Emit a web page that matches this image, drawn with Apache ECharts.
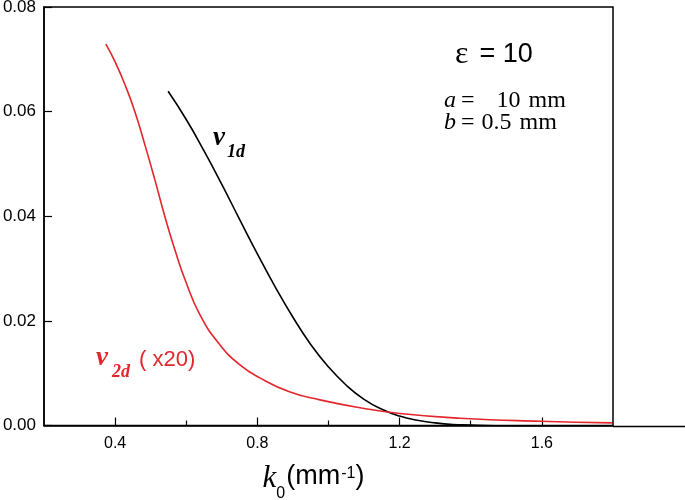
<!DOCTYPE html>
<html><head><meta charset="utf-8">
<script src="https://cdn.jsdelivr.net/npm/echarts@6/dist/echarts.min.js"></script>
<style>html,body{margin:0;padding:0;background:#fff}#c{width:685px;height:500px}</style>
</head><body><div id="c"></div>
<script>
// k0 (mm^-1) values and curve values
const v1dK   = [0.549, 0.60, 0.65, 0.70, 0.75, 0.80, 0.85, 0.90, 0.95, 1.00, 1.05, 1.10, 1.15, 1.20, 1.25, 1.30, 1.35, 1.40, 1.50, 1.60, 1.80];
const v1dVal = [0.0639, 0.0585, 0.0525, 0.0461, 0.0394, 0.0328, 0.0265, 0.0207, 0.0155, 0.0112, 0.0077, 0.0050, 0.0031, 0.0018, 0.0010, 0.0005, 0.0002, 0.0001, -0.0001, -0.0002, -0.0002];
// black curve runs on past the frame to this point
const v1dTailK = 2.003, v1dTailVal = -0.0002;
const v2dK   = [0.374, 0.400, 0.428, 0.456, 0.484, 0.512, 0.540, 0.568, 0.597, 0.639, 0.695, 0.751, 0.807, 0.892, 0.976, 1.089, 1.201, 1.370, 1.595, 1.797];
const v2dVal = [0.0729, 0.0695, 0.0651, 0.0599, 0.0536, 0.0469, 0.0399, 0.0336, 0.0278, 0.0211, 0.0154, 0.0116, 0.0091, 0.0064, 0.0049, 0.0034, 0.0023, 0.0014, 0.0008, 0.0005];
const xMajorTicks = [0.4, 0.8, 1.2, 1.6];
const xMinorTicks = [0.6, 1.0, 1.4];
const yTickStep = 0.02;

const RED = '#e3262c';
const chart = echarts.init(document.getElementById('c'), null, {renderer: 'canvas'});
const zip = (a, b) => a.map((v, i) => [v, b[i]]);

chart.setOption({
  animation: false,
  grid: {left: 44, right: 72, top: 7, bottom: 74.5, outerBoundsMode: 'none', containLabel: false,
         show: true, borderColor: '#000', borderWidth: 1.5, backgroundColor: 'transparent'},
  xAxis: [{
    type: 'value', min: 0.2, max: 1.8, position: 'bottom',
    axisLine: {show: true, lineStyle: {color: '#000', width: 1.5}},
    axisTick: {show: true, inside: true, length: 8, customValues: xMajorTicks, lineStyle: {color: '#000', width: 1.2}},
    axisLabel: {customValues: xMajorTicks, formatter: v => v.toFixed(1), color: '#000', fontSize: 16, fontFamily: 'Liberation Sans', margin: 10},
    splitLine: {show: false},
    name: '{k|k}{sub|0}{p|(mm}{sup|-1}{q|)}',
    nameLocation: 'middle', nameGap: 38,
    nameTextStyle: {
      rich: {
        k: {fontFamily: 'Liberation Serif', fontStyle: 'italic', fontSize: 31, lineHeight: 32, verticalAlign: 'top', color: '#000'},
        sub: {fontFamily: 'Liberation Sans', fontSize: 16, lineHeight: 16, padding: [22, 1, 0, 0], verticalAlign: 'top', color: '#000'},
        p: {fontFamily: 'Liberation Sans', fontSize: 27, lineHeight: 32, verticalAlign: 'top', color: '#000'},
        q: {fontFamily: 'Liberation Sans', fontSize: 27, lineHeight: 32, padding: [0, 30, 0, 0], verticalAlign: 'top', color: '#000'},
        sup: {fontFamily: 'Liberation Sans', fontSize: 16, lineHeight: 16, padding: [2, 0, 0, 1], verticalAlign: 'top', color: '#000'}
      }
    }
  }, {
    type: 'value', min: 0.2, max: 1.8, position: 'bottom',
    axisLine: {show: false},
    axisTick: {show: true, inside: true, length: 5, customValues: xMinorTicks, lineStyle: {color: '#000', width: 1.2}},
    axisLabel: {show: false},
    splitLine: {show: false}
  }],
  yAxis: {
    type: 'value', min: 0, max: 0.08, interval: yTickStep,
    axisLine: {show: true, lineStyle: {color: '#000', width: 1.5}},
    axisTick: {show: true, inside: true, length: 8, lineStyle: {color: '#000', width: 1.2}},
    axisLabel: {formatter: v => v.toFixed(2), color: '#000', fontSize: 17, fontFamily: 'Liberation Sans', margin: 8},
    splitLine: {show: false}
  },
  series: [{
    name: 'v1d', type: 'line', data: zip(v1dK, v1dVal), showSymbol: false,
    smooth: true,
    lineStyle: {color: '#000', width: 1.6}
  }, {
    name: 'v2d', type: 'line', data: zip(v2dK, v2dVal), showSymbol: false,
    smooth: true,
    lineStyle: {color: RED, width: 1.6}
  }],
  graphic: [{
    type: 'text', left: 455, top: 39,
    style: {text: '{e|ε}{t|= 10}', rich: {
      e: {fontFamily: 'Liberation Serif', fontSize: 32, padding: [0, 11, 0, 0], fill: '#000'},
      t: {fontFamily: 'Liberation Sans', fontSize: 27, fill: '#000'}
    }}
  }, {
    type: 'text', left: 444, top: 89,
    style: {text: '{i|a}{n|=}{m2|10}{m|mm}\n{i|b}{n|=}{m1|0.5}{m|mm}', rich: {
      i: {fontFamily: 'Liberation Serif', fontStyle: 'italic', fontSize: 24, lineHeight: 22, padding: [0, 5, 0, 0], fill: '#000'},
      n: {fontFamily: 'Liberation Serif', fontSize: 24, lineHeight: 22, fill: '#000'},
      m2: {fontFamily: 'Liberation Serif', fontSize: 24, lineHeight: 22, padding: [0, 0, 0, 22], fill: '#000'},
      m1: {fontFamily: 'Liberation Serif', fontSize: 24, lineHeight: 22, padding: [0, 0, 0, 7], fill: '#000'},
      m: {fontFamily: 'Liberation Serif', fontSize: 24, lineHeight: 22, padding: [0, 0, 0, 8], fill: '#000'}
    }}
  }, {
    type: 'text', left: 213, top: 125,
    style: {text: '{v|v}{s|1d}', rich: {
      v: {fontFamily: 'Liberation Serif', fontStyle: 'italic', fontWeight: 'bold', fontSize: 27, lineHeight: 24, verticalAlign: 'top', fill: '#000'},
      s: {fontFamily: 'Liberation Serif', fontStyle: 'italic', fontWeight: 'bold', fontSize: 18, lineHeight: 18, padding: [18, 0, 0, 2], verticalAlign: 'top', fill: '#000'}
    }}
  }, {
    type: 'text', left: 96, top: 345,
    style: {text: '{v|v}{s|2d}{t|( x20)}', rich: {
      v: {fontFamily: 'Liberation Serif', fontStyle: 'italic', fontWeight: 'bold', fontSize: 27, lineHeight: 24, verticalAlign: 'top', fill: RED},
      s: {fontFamily: 'Liberation Serif', fontStyle: 'italic', fontWeight: 'bold', fontSize: 18, lineHeight: 18, padding: [18, 9, 0, 4], verticalAlign: 'top', fill: RED},
      t: {fontFamily: 'Liberation Sans', fontSize: 22, lineHeight: 24, padding: [4, 0, 0, 0], verticalAlign: 'top', fill: RED}
    }}
  }]
});

// tail of the black curve past the right frame, placed through the axes' scales
const pA = chart.convertToPixel({gridIndex: 0}, [v1dK[v1dK.length - 1], v1dVal[v1dVal.length - 1]]);
const pB = chart.convertToPixel({gridIndex: 0}, [v1dTailK, v1dTailVal]);
chart.setOption({graphic: [{}, {}, {}, {}, {
  type: 'line', shape: {x1: pA[0], y1: pA[1], x2: pB[0], y2: pB[1]},
  style: {stroke: '#000', lineWidth: 1.6}
}]});
</script>
</body></html>
